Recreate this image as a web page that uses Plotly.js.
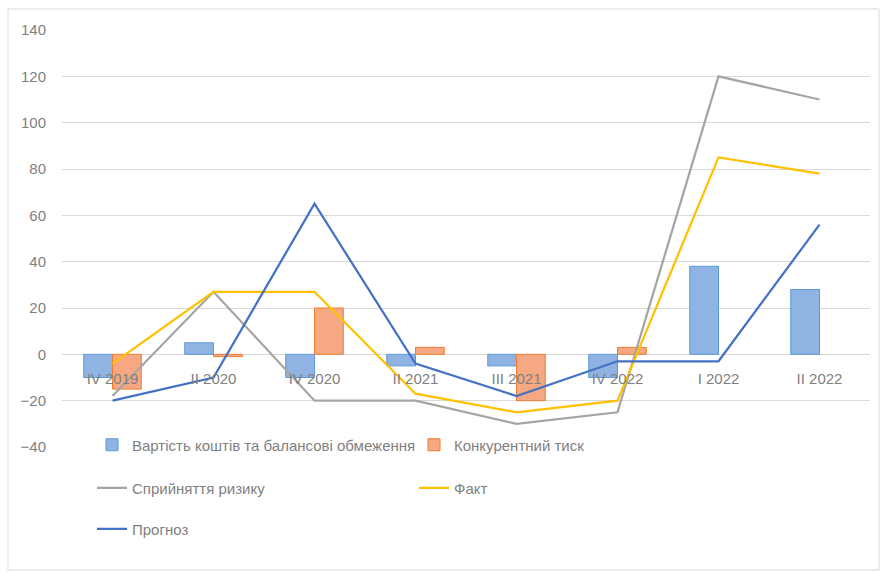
<!DOCTYPE html>
<html>
<head>
<meta charset="utf-8">
<script src="https://cdn.plot.ly/plotly-3.0.1.min.js"></script>
<style>html,body{margin:0;padding:0;background:#fff;}#chart{width:885px;height:573px;}</style>
</head>
<body>
<div id="chart"></div>
<script>
const categories = ["IV 2019", "II 2020", "IV 2020", "II 2021", "III 2021", "IV 2022", "I 2022", "II 2022"];
const costFunding = [-10, 5, -10, -5, -5, -10, 38, 28];
const competition = [-15, -1, 20, 3, -20, 3, null, null];
const riskPerception = [-18, 27, -20, -20, -30, -25, 120, 110];
const actual = [-4, 27, 27, -17, -25, -20, 85, 78];
const forecast = [-20, -10, 65, -4, -18, -3, -3, 56];
const seriesNames = ["Вартість коштів та балансові обмеження", "Конкурентний тиск", "Сприйняття ризику", "Факт", "Прогноз"];
const yTicks = [-40, -20, 0, 20, 40, 60, 80, 100, 120, 140];

const FONT = "Liberation Sans, Arial, sans-serif";
const GREY = "#7f7f7f";

const traces = [
  {type: "bar", name: seriesNames[0], x: categories, y: costFunding,
   marker: {color: "#8FB4E3", line: {color: "#5B9BD5", width: 1}}, legend: "legend"},
  {type: "bar", name: seriesNames[1], x: categories, y: competition,
   marker: {color: "#F6A883", line: {color: "#ED7D31", width: 1}}, legend: "legend"},
  {type: "scatter", mode: "lines", name: seriesNames[2], x: categories, y: riskPerception,
   line: {color: "#A5A5A5", width: 2.25}, legend: "legend2"},
  {type: "scatter", mode: "lines", name: seriesNames[3], x: categories, y: actual,
   line: {color: "#FFC000", width: 2.25}, legend: "legend2"},
  {type: "scatter", mode: "lines", name: seriesNames[4], x: categories, y: forecast,
   line: {color: "#4472C4", width: 2.25}, legend: "legend3"}
];

const plotTop = 30, plotBottom = 447, plotLeft = 62, plotRight = 870;
const H = plotBottom - plotTop, W = plotRight - plotLeft;
const py = p => (plotBottom - p) / H;
const px = p => (p - plotLeft) / W;

const legendCommon = {orientation: "h", bgcolor: "rgba(0,0,0,0)", font: {family: FONT, size: 15, color: GREY},
  xanchor: "left", yanchor: "middle", entrywidth: 277, entrywidthmode: "pixels", itemwidth: 30, traceorder: "normal"};

const layout = {
  width: 885, height: 573,
  margin: {l: plotLeft, r: 885 - plotRight, t: plotTop, b: 573 - plotBottom},
  paper_bgcolor: "#fff", plot_bgcolor: "#fff",
  font: {family: FONT, size: 15, color: GREY},
  barmode: "group", bargap: 0.43, bargroupgap: 0,
  xaxis: {type: "category", anchor: "free", position: (0 - (-40)) / (140 - (-40)),
    showgrid: false, showline: false, zeroline: false, ticks: "",
    tickfont: {family: FONT, size: 15, color: GREY}, ticklabelstandoff: 14},
  yaxis: {range: [-40, 140], tickvals: yTicks, showgrid: true, gridcolor: "#D9D9D9", gridwidth: 1,
    zeroline: false, showline: false, ticks: "", tickfont: {family: FONT, size: 15, color: GREY}, ticklabelstandoff: 15},
  legend: Object.assign({}, legendCommon, {x: px(92), y: py(445)}),
  legend2: Object.assign({}, legendCommon, {x: px(92), y: py(488)}),
  legend3: Object.assign({}, legendCommon, {x: px(92), y: py(529)}),
  shapes: [{type: "rect", xref: "paper", yref: "paper", x0: px(8), x1: px(879), y0: py(570), y1: py(9),
    line: {color: "#D9D9D9", width: 1}, fillcolor: "rgba(0,0,0,0)", layer: "below"}],
  showlegend: true
};

Plotly.newPlot("chart", traces, layout, {displayModeBar: false, staticPlot: true});
</script>
</body>
</html>
